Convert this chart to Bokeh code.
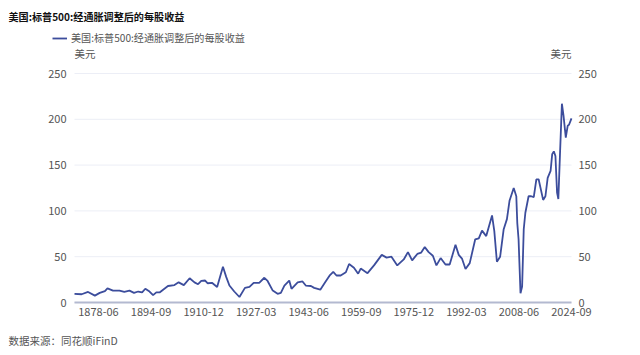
from bokeh.plotting import figure
from bokeh.models import (Range1d, LinearAxis, FixedTicker, Label, Legend,
                          LegendItem, ColumnDataSource)
from bokeh.embed import file_html
from bokeh.resources import INLINE

# ---- data (fractional year, real EPS in USD) ----
years = [1871.0, 1873.2, 1875.2, 1877.3, 1878.8, 1880.4, 1881.2, 1882.9, 1884.9,
         1886.4, 1888.0, 1889.4, 1890.7, 1891.9, 1892.9, 1894.2, 1895.3, 1896.3,
         1897.3, 1898.4, 1899.9, 1901.9, 1903.2, 1904.8, 1906.6, 1908.1, 1909.2,
         1910.2, 1911.4, 1912.2, 1913.5, 1915.1, 1916.9, 1917.9, 1918.9, 1920.4,
         1922.0, 1923.7, 1925.1, 1926.4, 1928.1, 1929.7, 1930.7, 1932.3, 1933.8,
         1934.8, 1935.9, 1937.4, 1938.1, 1940.0, 1941.5, 1942.5, 1944.1, 1945.1,
         1947.0, 1948.5, 1950.0, 1951.0, 1952.0, 1953.3, 1954.9, 1955.9, 1957.4,
         1958.7, 1959.5, 1961.6, 1963.6, 1966.0, 1967.5, 1969.0, 1970.8, 1972.8,
         1974.1, 1975.4, 1977.0, 1978.2, 1979.3, 1980.5, 1981.8, 1982.9, 1984.2,
         1985.7, 1987.0, 1988.8, 1989.8, 1990.8, 1991.9, 1993.2, 1994.9, 1996.0,
         1997.0, 1998.3, 2000.1, 2000.8, 2001.6, 2002.6, 2003.7, 2004.7, 2005.5,
         2006.8, 2007.6, 2007.9, 2008.3, 2008.9, 2009.4, 2009.9, 2010.4, 2011.4,
         2012.2, 2013.0, 2013.8, 2014.5, 2015.9, 2016.6, 2017.3, 2018.2, 2018.7,
         2019.2, 2019.7, 2020.2, 2020.6, 2021.1, 2021.7, 2022.2, 2022.9, 2023.5,
         2023.9, 2024.667]
eps = [9.5, 9.0, 11.5, 7.5, 10.5, 12.5, 15.5, 13.0, 13.0,
       11.5, 13.0, 10.5, 12.0, 11.0, 15.0, 12.0, 8.0, 11.0,
       11.0, 14.0, 18.0, 19.0, 22.0, 19.0, 26.5, 22.0, 20.0,
       23.5, 24.0, 21.0, 21.5, 17.0, 39.0, 28.0, 18.5, 12.0,
       6.0, 16.0, 17.0, 21.5, 21.5, 27.0, 23.5, 13.0, 9.5,
       10.5, 18.5, 24.0, 15.0, 22.0, 23.0, 18.5, 18.0, 16.0,
       14.0, 22.0, 30.0, 33.5, 29.5, 29.5, 33.0, 42.0, 38.0,
       31.5, 37.0, 32.0, 40.5, 52.0, 49.0, 50.0, 40.5, 47.0,
       55.0, 46.0, 53.0, 54.5, 60.5, 55.0, 51.0, 40.5, 48.5,
       41.5, 41.5, 63.0, 52.0, 48.0, 36.6, 43.0, 69.0, 70.0,
       78.5, 72.5, 95.0, 78.0, 44.5, 50.0, 80.0, 91.0, 111.0,
       125.0, 116.0, 87.0, 69.0, 10.0, 17.5, 80.0, 98.0, 116.0,
       116.0, 115.0, 134.5, 134.5, 112.0, 116.0, 136.0, 143.6, 162.0,
       165.0, 160.0, 120.0, 113.0, 161.0, 217.0, 204.0, 180.0, 193.0,
       194.0, 201.0]

tick_labels = ["1878-06", "1894-09", "1910-12", "1927-03", "1943-06",
               "1959-09", "1975-12", "1992-03", "2008-06", "2024-09"]
y_ticks = [0, 50, 100, 150, 200, 250]

series_name = "美国:标普500:经通胀调整后的每股收益"
title_text = "美国:标普500:经通胀调整后的每股收益"
source_text = "数据来源：同花顺iFinD"
unit_text = "美元"

FONT = "Noto Sans CJK SC"
LINE_COLOR = "#3c4d9c"
TEXT_COLOR = "#555555"

tick_pos = [int(s[:4]) + (int(s[5:]) - 1) / 12 for s in tick_labels]
x0, x1 = 1871.0, tick_pos[-1]          # data span of the x axis
y0, y1 = y_ticks[0], y_ticks[-1]

# The frame covers the whole 640x355 canvas; the plotting area proper runs
# from x=74..571 px and y=73..302 px, axes are pinned there.
W, H = 640, 355
L, R, T, B = 74, 571, 73, 302
xs = (x1 - x0) / (R - L)
ys = (y1 - y0) / (B - T)
p = figure(width=W, height=H, output_backend="svg", toolbar_location=None,
           x_range=Range1d(x0 - L * xs, x1 + (W - R) * xs),
           y_range=Range1d(y0 - (H - B) * ys, y1 + T * ys),
           min_border=0)
p.outline_line_color = None
p.background_fill_color = "white"
p.border_fill_color = "white"
p.xgrid.visible = False
p.ygrid.visible = False

# horizontal grid lines at the y ticks, limited to the axis span
p.segment(x0=[x0] * len(y_ticks), x1=[x1] * len(y_ticks), y0=y_ticks, y1=y_ticks,
          line_color="#eceef6", line_width=1)

src = ColumnDataSource(dict(x=years, y=eps))
r = p.line("x", "y", source=src, line_color=LINE_COLOR, line_width=1.8)

# x axis pinned at y=0
xa = p.xaxis[0]
xa.fixed_location = y0
xa.bounds = (x0, x1)
xa.ticker = FixedTicker(ticks=tick_pos)
xa.major_label_overrides = {t: l for t, l in zip(tick_pos, tick_labels)}
xa.axis_line_color = "#b3b9d0"
xa.axis_line_width = 2
xa.major_tick_line_color = None
xa.minor_tick_line_color = None
xa.major_tick_out = 0
xa.major_tick_in = 0
xa.major_label_standoff = 5
xa.major_label_text_font = FONT
xa.major_label_text_font_size = "11px"
xa.major_label_text_color = TEXT_COLOR

def style_y(ax, standoff):
    ax.ticker = FixedTicker(ticks=y_ticks)
    ax.bounds = (y0, y1)
    ax.axis_line_color = None
    ax.major_tick_line_color = None
    ax.minor_tick_line_color = None
    ax.major_tick_out = 0
    ax.major_tick_in = 0
    ax.major_label_standoff = standoff
    ax.major_label_text_font = FONT
    ax.major_label_text_font_size = "11px"
    ax.major_label_text_color = TEXT_COLOR

ya = p.yaxis[0]
ya.fixed_location = x0
style_y(ya, 8)

ra = LinearAxis(fixed_location=x1)
style_y(ra, 7)
p.add_layout(ra, "right")

# legend
leg = Legend(items=[LegendItem(label=series_name, renderers=[r])],
             location=(52, H - 45), orientation="horizontal",
             background_fill_alpha=0, border_line_color=None,
             padding=0, margin=0, spacing=0,
             glyph_width=15, glyph_height=14, label_height=14,
             label_standoff=4,
             label_text_font=FONT, label_text_font_size="10.1px",
             label_text_color=TEXT_COLOR)
p.add_layout(leg)

def add_text(x, y, text, align="left", bold=False, color=TEXT_COLOR, size="10.5px"):
    p.add_layout(Label(x=x, y=H - y, x_units="screen", y_units="screen",
                       text=text, text_font=FONT, text_font_size=size,
                       text_font_style="bold" if bold else "normal",
                       text_color=color, text_baseline="middle",
                       text_align=align))

add_text(8, 16, title_text, bold=True, color="#111111", size="10.1px")
add_text(L, 53, unit_text)
add_text(R, 53, unit_text, align="right")
add_text(8, 340, source_text)

open("out.html", "w").write(file_html(p, INLINE))
